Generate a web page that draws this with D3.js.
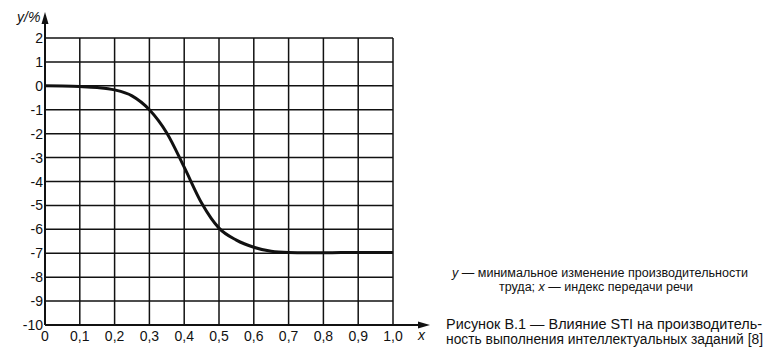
<!DOCTYPE html>
<html><head><meta charset="utf-8">
<script src="https://cdn.jsdelivr.net/npm/d3@7"></script>
<style>body{margin:0;background:#fff}svg{display:block}text{font-family:"Liberation Sans",Arial,sans-serif;fill:#111}</style>
</head><body><svg id="c" width="776" height="356"></svg>
<script>
const xData=[0,0.05,0.1,0.15,0.2,0.25,0.3,0.35,0.4,0.45,0.5,0.55,0.6,0.65,0.7,0.75,0.8,0.85,0.9,0.95,1.0];
const yData=[0,-0.01,-0.03,-0.07,-0.17,-0.42,-1.0,-1.97,-3.4,-4.9,-5.95,-6.45,-6.75,-6.92,-6.97,-6.98,-6.98,-6.97,-6.97,-6.97,-6.97];
const xTicks=[0,0.1,0.2,0.3,0.4,0.5,0.6,0.7,0.8,0.9,1.0];
const xTickLabels=["0","0,1","0,2","0,3","0,4","0,5","0,6","0,7","0,8","0,9","1,0"];
const yTicks=[2,1,0,-1,-2,-3,-4,-5,-6,-7,-8,-9,-10];
const yLabel="y/%", xLabel="x";
const legendLines=["y — минимальное изменение производительности","труда; x — индекс передачи речи"];
const captionLines=["Рисунок  В.1 — Влияние STI на производитель-","ность выполнения интеллектуальных заданий [8]"];

const svg=d3.select("#c");
const x=d3.scaleLinear().domain([0,1]).range([45,393]);
const y=d3.scaleLinear().domain([-10,2]).range([325,38]);
const ink="#111";
// grid
const g=svg.append("g").attr("stroke",ink).attr("stroke-width",1.5);
xTicks.slice(1).forEach(v=>g.append("line").attr("x1",x(v)).attr("x2",x(v)).attr("y1",y(2)).attr("y2",y(-10)));
yTicks.slice(0,-1).forEach(v=>g.append("line").attr("x1",x(0)).attr("x2",x(1)).attr("y1",y(v)).attr("y2",y(v)));
// axes
svg.append("line").attr("x1",x(0)).attr("x2",x(0)).attr("y1",y(-10)).attr("y2",20).attr("stroke",ink).attr("stroke-width",2);
svg.append("line").attr("x1",x(0)).attr("x2",420).attr("y1",y(-10)).attr("y2",y(-10)).attr("stroke",ink).attr("stroke-width",2);
svg.append("path").attr("d",`M${x(0)},12 L${x(0)-3.5},24 L${x(0)+3.5},24 Z`).attr("fill",ink);
svg.append("path").attr("d",`M430,${y(-10)} L418,${y(-10)-3.5} L418,${y(-10)+3.5} Z`).attr("fill",ink);
// tick labels
svg.append("g").selectAll("text").data(yTicks).join("text")
 .attr("x",43).attr("y",d=>y(d)).attr("dy","0.36em").attr("text-anchor","end").attr("font-size",14).text(d=>d);
svg.append("g").selectAll("text").data(xTicks).join("text")
 .attr("x",d=>x(d)).attr("y",341).attr("text-anchor","middle").attr("font-size",14).text((d,i)=>xTickLabels[i]);
svg.append("text").attr("x",17).attr("y",22).attr("font-size",14).attr("font-style","italic").text(yLabel);
svg.append("text").attr("x",418).attr("y",340).attr("font-size",14).attr("font-style","italic").text(xLabel);
// curve
const pts=xData.map((v,i)=>[v,yData[i]]);
svg.append("path").datum(pts).attr("fill","none").attr("stroke",ink).attr("stroke-width",3)
 .attr("d",d3.line().x(d=>x(d[0])).y(d=>y(d[1])).curve(d3.curveMonotoneX));
// legend
svg.append("text").attr("x",452).attr("y",277).attr("font-size",12).attr("textLength",296).attr("lengthAdjust","spacingAndGlyphs")
 .html('<tspan font-style="italic">y</tspan> — минимальное изменение производительности');
svg.append("text").attr("x",499).attr("y",291).attr("font-size",12).attr("textLength",194).attr("lengthAdjust","spacingAndGlyphs")
 .html('труда; <tspan font-style="italic">x</tspan> — индекс передачи речи');
svg.append("text").attr("x",446).attr("y",329).attr("font-size",14).attr("textLength",316).attr("lengthAdjust","spacingAndGlyphs").text(captionLines[0]);
svg.append("text").attr("x",446).attr("y",344).attr("font-size",14).attr("textLength",317).attr("lengthAdjust","spacingAndGlyphs").text(captionLines[1]);
</script></body></html>
